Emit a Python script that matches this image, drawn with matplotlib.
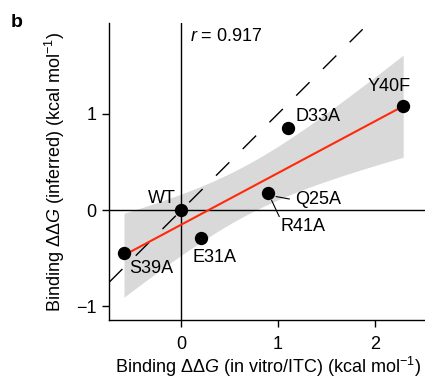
import matplotlib.pyplot as plt
import numpy as np

plt.rcParams['font.family'] = ['Liberation Sans', 'DejaVu Sans']
plt.rcParams['mathtext.fontset'] = 'custom'
plt.rcParams['mathtext.rm'] = 'Liberation Sans'
plt.rcParams['mathtext.it'] = 'Liberation Sans:italic'
plt.rcParams['mathtext.bf'] = 'Liberation Sans:bold'

mutants = ['WT', 'S39A', 'E31A', 'D33A', 'Q25A', 'Y40F']
itc_ddg = [0.0, -0.595, 0.20, 1.10, 0.90, 2.294]
inferred_ddg = [0.0, -0.446, -0.29, 0.85, 0.18, 1.08]
r_value = 0.917
# fitted line
fit_slope = 0.535
fit_intercept = -0.15

# label offsets in data units (text centre relative to point)
label_pos = {
    'WT': (-0.20, 0.117),
    'S39A': (0.278, -0.162),
    'E31A': (0.146, -0.204),
    'D33A': (0.315, 0.125),
    'Q25A': (0.517, -0.073),
    'Y40F': (-0.144, 0.198),
}

x = np.array(itc_ddg)
y = np.array(inferred_ddg)

fig = plt.figure(figsize=(4.25, 3.79), dpi=100)
ax = fig.add_axes([0.2565, 0.1557, 0.7435, 0.7836])

# fit + 95% band
xs = np.linspace(x.min(), x.max(), 100)
n = len(x)
resid = y - (fit_slope * x + fit_intercept)
s = np.sqrt(np.sum(resid ** 2) / (n - 2))
sxx = np.sum((x - x.mean()) ** 2)
se = s * np.sqrt(1 / n + (xs - x.mean()) ** 2 / sxx)
t = 2.42
fit = fit_slope * xs + fit_intercept
ax.fill_between(xs, fit - t * se, fit + t * se, color='#d9d9d9', lw=0, zorder=1)

ax.axhline(0, color='black', lw=1, zorder=2)
ax.axvline(0, color='black', lw=1, zorder=2)

diag = np.array([-0.75, 1.875])
ax.plot(diag, diag, color='black', lw=1, dashes=(13.6, 13.6), zorder=2)

ax.plot(xs, fit, color='#ff2a0a', lw=1.5, zorder=3)
ax.scatter(x, y, s=92, color='black', zorder=4, linewidths=0)

for name, xi, yi in zip(mutants, x, y):
    dx, dy = label_pos[name]
    ax.text(xi + dx, yi + dy, name, fontsize=13, ha='center', va='center', zorder=5)

# R41A shares the Q25A point; leader lines for both
qx, qy = itc_ddg[4], inferred_ddg[4]
ax.text(qx + 0.354, qy - 0.353, 'R41A', fontsize=13, ha='center', va='center')
ax.plot([qx + 0.08, qx + 0.215], [qy - 0.04, qy - 0.065], color='black', lw=0.8)
ax.plot([qx + 0.033, qx + 0.111], [qy - 0.08, qy - 0.246], color='black', lw=0.8)

ax.text(0.09, 1.796, r'$r$ = %.3f' % r_value, fontsize=13, ha='left', va='center')

ax.set_xlim(-0.75, 2.52)
ax.set_ylim(-1.14, 1.94)
ax.set_xticks([0, 1, 2])
ax.set_yticks([-1, 0, 1])
ax.set_xticklabels(['0', '1', '2'])
ax.set_yticklabels(['\u22121', '0', '1'])
ax.tick_params(direction='out', length=5, width=1, labelsize=13, colors='black')
ax.tick_params(axis='x', pad=6.5)
ax.tick_params(axis='y', pad=3.8)
ax.spines['top'].set_visible(False)
ax.spines['right'].set_visible(False)
ax.spines['left'].set_linewidth(1)
ax.spines['bottom'].set_linewidth(1)

ax.set_xlabel(r'Binding $\Delta\Delta G$ (in vitro/ITC) (kcal mol$^{-1}$)', fontsize=13)
ax.set_ylabel(r'Binding $\Delta\Delta G$ (inferred) (kcal mol$^{-1}$)', fontsize=13)
ax.xaxis.set_label_coords(0.504, -0.118)
ax.yaxis.set_label_coords(-0.133, 0.499)

fig.text(0.04, 0.94, 'b', fontsize=14, fontweight='bold', ha='center', va='center')

fig.savefig('out.png', dpi=100)
